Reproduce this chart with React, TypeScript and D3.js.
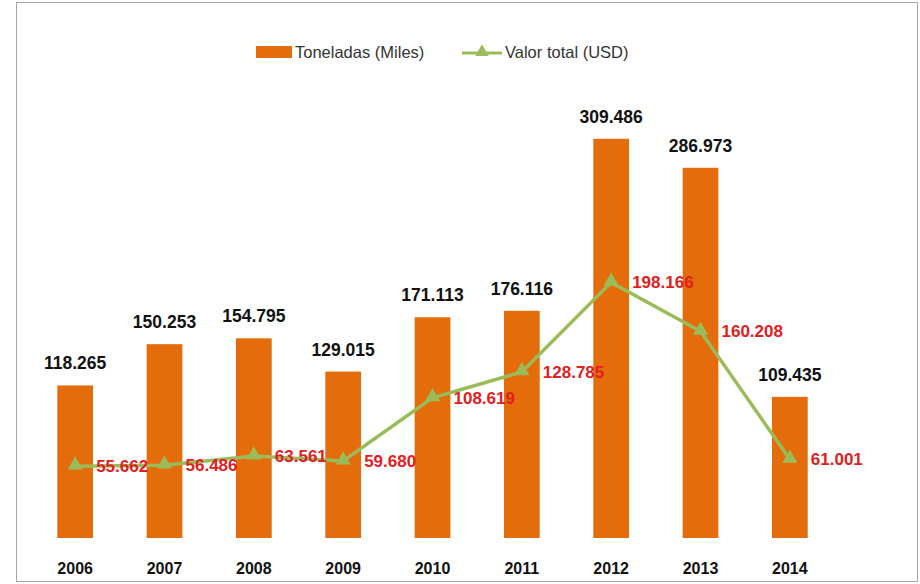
import React from "react";
import * as d3 from "d3";

const years = ["2006", "2007", "2008", "2009", "2010", "2011", "2012", "2013", "2014"];
const toneladas = [118.265, 150.253, 154.795, 129.015, 171.113, 176.116, 309.486, 286.973, 109.435];
const valorTotal = [55.662, 56.486, 63.561, 59.68, 108.619, 128.785, 198.166, 160.208, 61.001];

const W = 920;
const H = 584;
const BAR = "#E46C0A";
const LINE = "#9BBB59";
const RED = "#E0201F";
const FONT = "'Liberation Sans', Arial, sans-serif";

const fmt = (v: number) => v.toFixed(3);

export default function App() {
  const x = d3.scaleBand<string>().domain(years).range([30.5, 834.5]).paddingInner(0.6).paddingOuter(0.3);
  const y = d3.scaleLinear().domain([0, 350]).range([538, 86.5]);
  const bw = x.bandwidth();
  const cx = (d: string) => (x(d) as number) + bw / 2;
  const line = d3
    .line<number>()
    .x((_, i) => cx(years[i]))
    .y((v) => y(v));
  const tri = d3.symbol().type(d3.symbolTriangle).size(100);
  const triLeg = d3.symbol().type(d3.symbolTriangle).size(80);

  return (
    <svg
      width={W}
      height={H}
      style={{ position: "absolute", left: 0, top: 0, background: "#fff" }}
      fontFamily={FONT}
    >
      <rect x={16.5} y={2.5} width={901} height={579} fill="#fff" stroke="#A6A6A6" strokeWidth={1} />
      {/* legend */}
      <rect x={256} y={46} width={36} height={12} fill={BAR} />
      <text x={295} y={58} fontSize={16.5} fill="#333">Toneladas (Miles)</text>
      <line x1={462} x2={502} y1={53} y2={53} stroke={LINE} strokeWidth={3} />
      <path d={triLeg() as string} transform="translate(482,52)" fill={LINE} />
      <text x={505} y={58} fontSize={16.5} fill="#333">Valor total (USD)</text>

      {/* bars */}
      {years.map((yr, i) => (
        <g key={yr}>
          <rect x={x(yr)} y={y(toneladas[i])} width={bw} height={y(0) - y(toneladas[i])} fill={BAR} />
          <text
            x={cx(yr)}
            y={y(toneladas[i]) - 16}
            textAnchor="middle"
            fontSize={17.5}
            fontWeight="bold"
            fill="#111"
          >
            {fmt(toneladas[i])}
          </text>
          <text x={cx(yr)} y={574} textAnchor="middle" fontSize={16} fontWeight="bold" fill="#111">
            {yr}
          </text>
        </g>
      ))}

      {/* line */}
      <path d={line(valorTotal) as string} fill="none" stroke={LINE} strokeWidth={3.5} />
      {valorTotal.map((v, i) => (
        <g key={"p" + i}>
          <path d={tri() as string} transform={`translate(${cx(years[i])},${y(v) - 1})`} fill={LINE} />
          <text
            x={cx(years[i]) + 21}
            y={y(v) + 6}
            fontSize={17}
            fontWeight="bold"
            fill={RED}
          >
            {fmt(v)}
          </text>
        </g>
      ))}
    </svg>
  );
}
